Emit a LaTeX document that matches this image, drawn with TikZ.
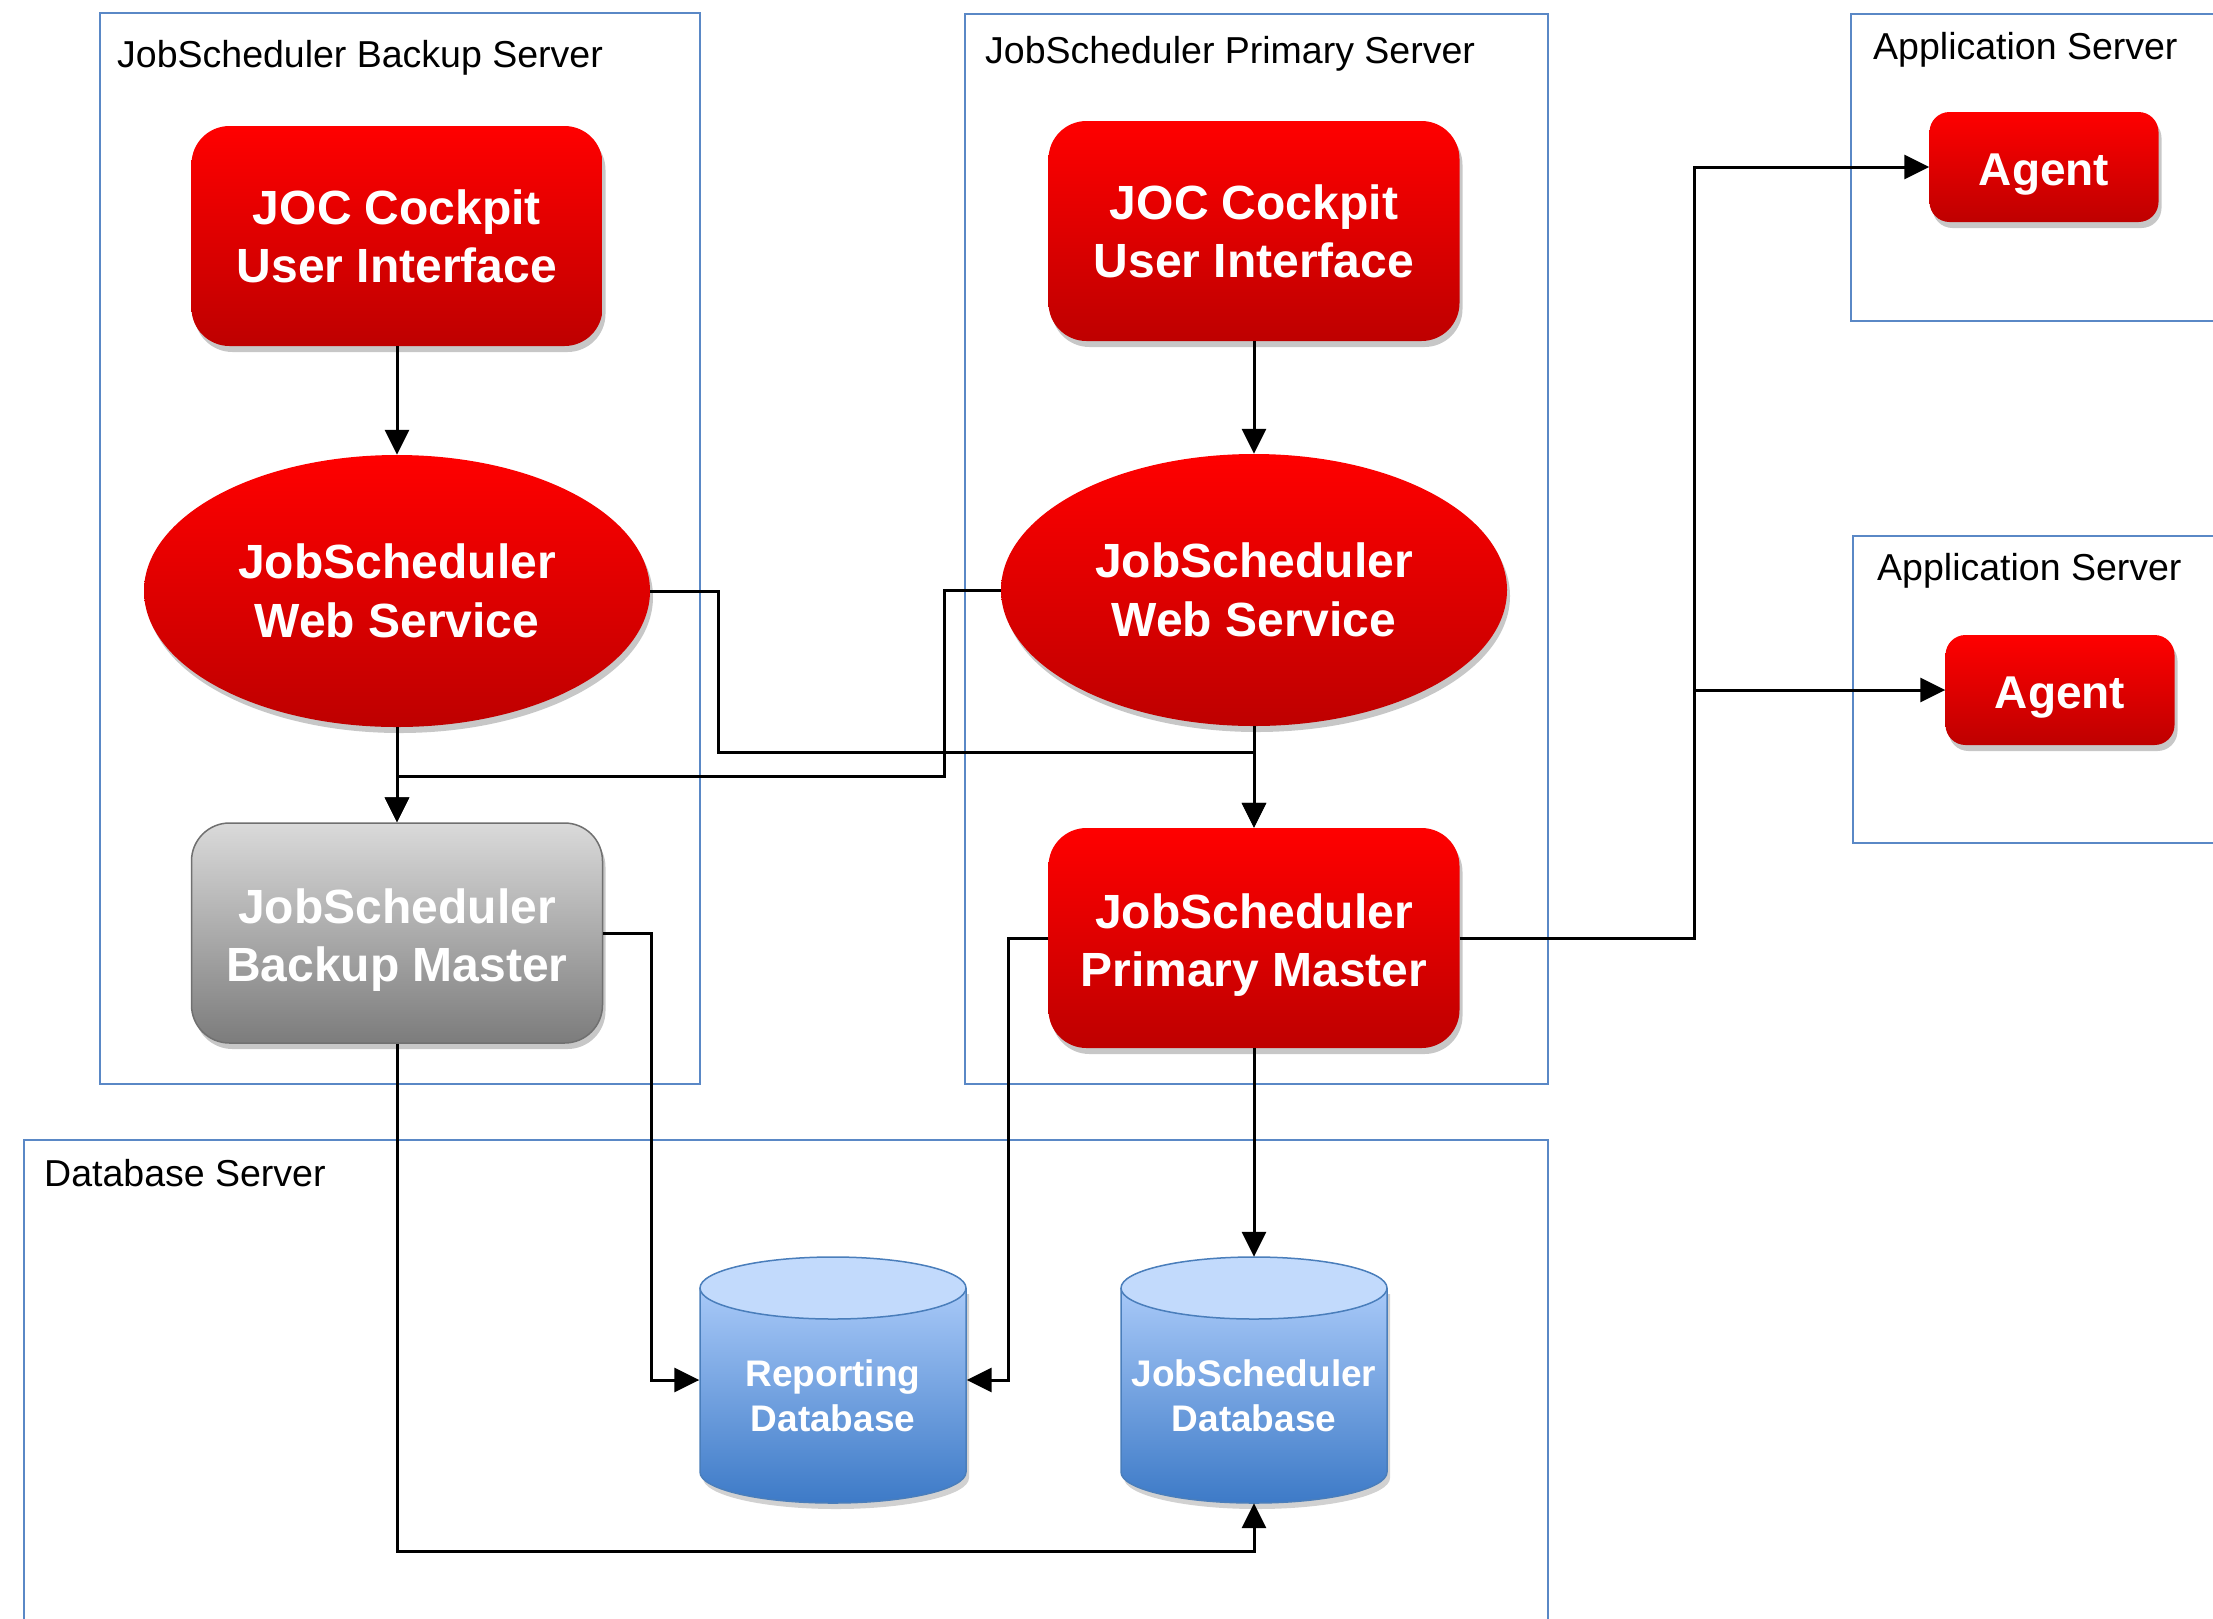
\documentclass[tikz,border=0pt]{standalone}
\usepackage{fontspec}
\setmainfont{Liberation Sans}
\usetikzlibrary{arrows.meta,shapes.geometric,shadows}
\definecolor{rtop}{HTML}{FF0000}
\definecolor{rbot}{HTML}{BE0000}
\definecolor{gtop}{HTML}{DADADA}
\definecolor{gbot}{HTML}{7C7C7C}
\definecolor{gline}{HTML}{707070}
\definecolor{boxblue}{HTML}{5A88C6}
\definecolor{dbtop}{HTML}{A8C9F8}
\definecolor{dbbot}{HTML}{3D7AC7}
\definecolor{dbcap}{HTML}{C2DAFC}
\definecolor{dbline}{HTML}{4A7EBB}
\begin{document}
\begin{tikzpicture}[x=1pt,y=-1pt,
  srv/.style={draw=boxblue, line width=2pt},
  title/.style={font=\fontsize{37.5}{45}\selectfont, inner sep=0pt, anchor=base west},
  shad/.style={drop shadow={shadow xshift=3pt, shadow yshift=-6pt, opacity=0.22, fill=black}},
  redbox/.style={shad, rectangle, rounded corners=38pt, top color=rtop, bottom color=rbot, draw=none,
    text=white, font=\bfseries\fontsize{48}{58}\selectfont, align=center,
    minimum width=411pt, minimum height=220pt, inner sep=0pt},
  master/.style={text height=97pt, text depth=0pt},
  graybox/.style={redbox, top color=gtop, bottom color=gbot, draw=gline, line width=1.5pt},
  wsnode/.style={shad, ellipse, top color=rtop, bottom color=rbot, draw=none,
    text=white, font=\bfseries\fontsize{48}{59}\selectfont, align=center,
    minimum width=506pt, minimum height=272pt, inner sep=0pt},
  agent/.style={redbox, rounded corners=20pt, minimum width=229pt, minimum height=110pt,
    font=\bfseries\fontsize{46}{55}\selectfont, text height=37pt, text depth=0pt},
  dbbox/.style={rectangle, minimum width=267pt, minimum height=246pt, inner sep=0pt},
  dbtext/.style={text=white, font=\bfseries\fontsize{37}{45}\selectfont, align=center, inner sep=0pt},
  conn/.style={line width=3pt, -{Triangle[length=25pt,width=24pt]}}
]
\useasboundingbox (0,0) rectangle (2213,1618);
\clip (0,0) rectangle (2213,1618);
\fill[white] (0,0) rectangle (2213,1618);

% server boxes
\draw[srv] (100,13) rectangle (700,1084);
\draw[srv] (965,14) rectangle (1548,1084);
\draw[srv] (24,1140) rectangle (1548,1640);
\draw[srv] (1851,14) rectangle (2240,321);
\draw[srv] (1853,536) rectangle (2240,843);

\node[title] (tbk) at (117,67) {JobScheduler Backup Server};
\node[title] (tpr) at (985,63) {JobScheduler Primary Server};
\node[title] (tdb) at (44,1186) {Database Server};
\node[title] (tap1) at (1873,59) {Application Server};
\node[title] (tap2) at (1877,580) {Application Server};

% nodes
\node[redbox] (bjoc) at (397,236) {JOC Cockpit\\User Interface};
\node[redbox] (pjoc) at (1254,231) {JOC Cockpit\\User Interface};
\node[wsnode] (bws) at (397,591) {JobScheduler\\Web Service};
\node[wsnode] (pws) at (1254,590) {JobScheduler\\Web Service};
\node[graybox, master] (bm) at (397,933) {JobScheduler\\Backup Master};
\node[redbox, master] (pm) at (1254,938) {JobScheduler\\Primary Master};
\node[agent] (ag1) at (2044,167) {Agent};
\node[agent] (ag2) at (2060,690) {Agent};

% cylinders
\foreach \cx in {833,1254}{
  \fill[black,opacity=0.18] (\cx-133+3,1294) -- (\cx-133+3,1478) arc[start angle=180,end angle=0,x radius=133,y radius=31] -- (\cx+133+3,1294) -- cycle;
  \shade[top color=dbtop, bottom color=dbbot] (\cx-133,1288) -- (\cx-133,1472)
     arc[start angle=180,end angle=0,x radius=133,y radius=31] -- (\cx+133,1288) -- cycle;
  \draw[dbline, line width=1.5pt] (\cx-133,1288) -- (\cx-133,1472)
     arc[start angle=180,end angle=0,x radius=133,y radius=31] -- (\cx+133,1288);
  \filldraw[fill=dbcap, draw=dbline, line width=1.5pt] (\cx,1288) ellipse [x radius=133, y radius=31];
}
\node[dbbox] (rdb) at (833,1380) {};
\node[dbbox] (jdb) at (1254,1380) {};
\node[dbtext] (rdbt) at (833,1396) {Reporting\\Database};
\node[dbtext] (jdbt) at (1254,1396) {JobScheduler\\Database};

% connectors
\coordinate (b1) at (718,752);
\coordinate (b2) at (944,776);
\coordinate (b3) at (651,1380);
\coordinate (b4) at (1008,1380);
\coordinate (b5) at (397,1551);
\coordinate (b6) at (1694,167);
\coordinate (b7) at (1694,690);

\draw[conn] (bjoc) -- (bws);
\draw[conn] (pjoc) -- (pws);
\draw[conn] (bws.east) -| (b1) -| (pm.north);
\draw[conn] (pws.south) -- (pm.north);
\draw[conn] (pws.west) -| (b2) -| (bm.north);
\draw[conn] (bws.south) -- (bm.north);
\draw[conn] (bm.east) -| (b3) -- (rdb.west);
\draw[conn] (pm.west) -| (b4) -- (rdb.east);
\draw[conn] (pm.south) -- (jdb.north);
\draw[conn] (bm.south) -- (b5) -| (jdb.south);
\draw[conn] (pm.east) -| (b6) -- (ag1.west);
\draw[conn] (b7) -- (ag2.west);
\end{tikzpicture}
\end{document}
